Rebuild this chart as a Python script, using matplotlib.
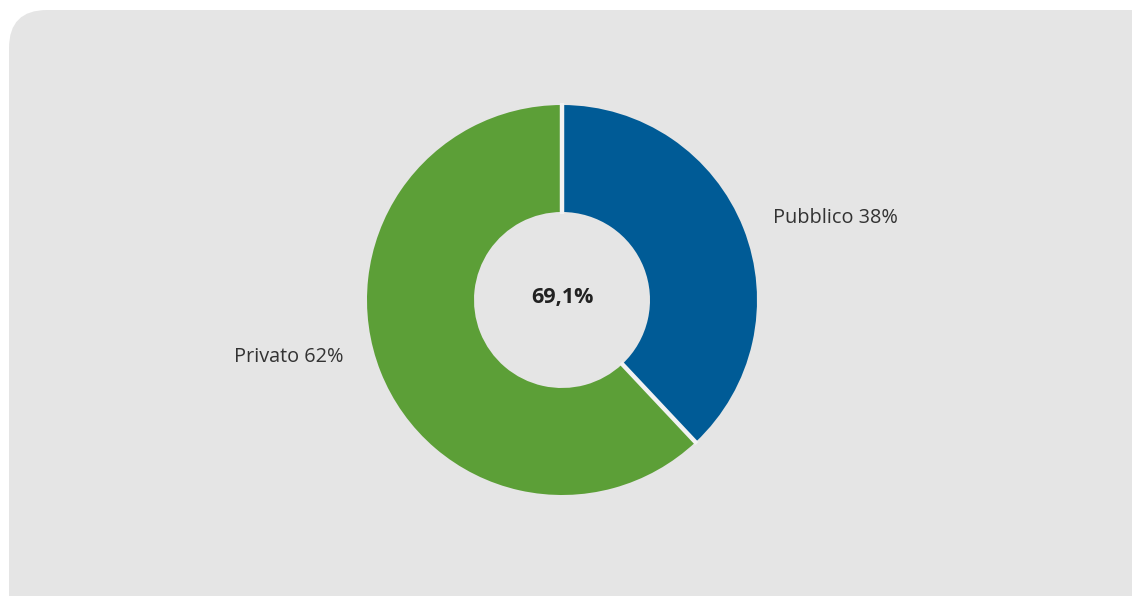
import numpy as np
import matplotlib
matplotlib.use("Agg")
import matplotlib.pyplot as plt
from matplotlib.patches import FancyBboxPatch

# dati
labels = ["Pubblico", "Privato"]
values = [38, 62]
colors = ["#005b96", "#5c9f37"]
center_text = "69,1%"

plt.rcParams['font.family'] = ['Open Sans', 'DejaVu Sans']

fig = plt.figure(figsize=(11.32, 5.96), dpi=100)
ax = fig.add_axes([0, 0, 1, 1])
ax.axis('off')

# sfondo grigio con angoli arrotondati
bg = FancyBboxPatch((9, -40), 1160, 626, boxstyle="round,pad=0,rounding_size=38",
                    fc="#e5e5e5", ec="none", zorder=0)
ax.add_patch(bg)

cx, cy = 562, 296
r_out, r_in = 195, 88
wedges, _ = ax.pie(values, colors=colors, startangle=90, counterclock=False,
                   radius=r_out, center=(cx, cy),
                   wedgeprops=dict(width=r_out - r_in, edgecolor="none", linewidth=0))

# separatori chiari tra gli spicchi
cum = np.cumsum([0] + values) / sum(values)
for c in cum[:-1]:
    ang = np.deg2rad(90 - 360 * c)
    ax.plot([cx + (r_in - 2) * np.cos(ang), cx + (r_out + 2) * np.cos(ang)],
            [cy + (r_in - 2) * np.sin(ang), cy + (r_out + 2) * np.sin(ang)],
            color='#f2f2f2', lw=3.2, solid_capstyle='butt', zorder=5)

ax.set_xlim(0, 1132)
ax.set_ylim(0, 596)
ax.set_aspect('equal')

ax.text(cx, cy + 2, center_text, ha='center', va='center', fontsize=15.5,
        fontweight='bold', color='#222222')
ax.text(773, 596 - 218, "%s %d%%" % (labels[0], values[0]), ha='left', va='center',
        fontsize=14.3, color='#333333')
ax.text(343, 596 - 357, "%s %d%%" % (labels[1], values[1]), ha='right', va='center',
        fontsize=14.3, color='#333333')

fig.savefig("out.png", dpi=100)
